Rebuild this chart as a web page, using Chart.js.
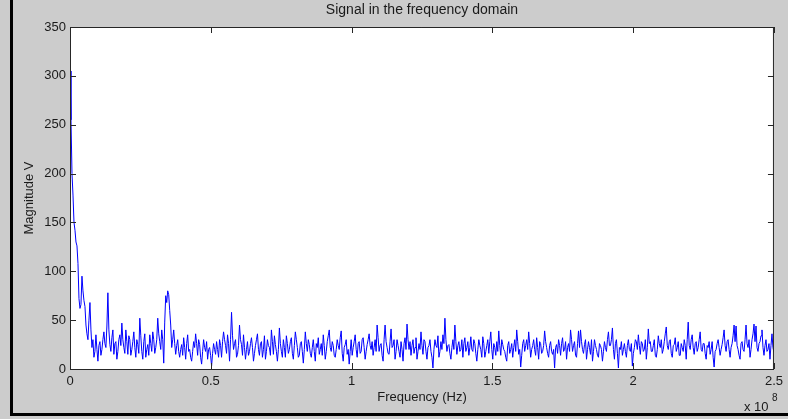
<!DOCTYPE html>
<html>
<head>
<meta charset="utf-8">
<title>Signal in the frequency domain</title>
<script src="https://cdn.jsdelivr.net/npm/chart.js@4/dist/chart.umd.min.js"></script>
<style>
    html, body { margin: 0; padding: 0; background: #cccccc; overflow: hidden; }
    canvas { display: block; }
</style>
</head>
<body>
<canvas id="spectrumChart" width="788" height="419"></canvas>
<script>
// Magnitude (V), evenly spaced from 0 to 2.5e8 Hz
const magnitudeV = [
    305, 255, 200, 178, 150, 142, 130, 126, 108, 72, 62, 66, 95, 80, 70, 64, 45, 36, 30, 50,
    68, 40, 22, 30, 12, 18, 35, 20, 8, 24, 28, 14, 20, 30, 38, 26, 22, 44, 78, 40,
    25, 18, 32, 40, 15, 26, 28, 10, 18, 30, 35, 24, 47, 30, 22, 16, 40, 28, 15, 34,
    30, 14, 20, 28, 38, 22, 12, 30, 25, 16, 52, 34, 18, 10, 28, 36, 12, 20, 25, 14,
    35, 26, 18, 38, 30, 16, 22, 30, 52, 36, 28, 20, 40, 30, 6, 48, 75, 68, 80, 76,
    60, 45, 22, 30, 40, 26, 15, 24, 30, 18, 12, 20, 25, 14, 32, 22, 10, 26, 35, 18,
    20, 12, 8, 18, 28, 22, 36, 26, 14, 30, 25, 12, 5, 18, 30, 22, 18, 28, 10, 20,
    22, 14, 3, 16, 26, 20, 15, 28, 20, 12, 30, 24, 12, 28, 38, 30, 24, 16, 35, 26,
    8, 30, 58, 34, 20, 26, 30, 12, 15, 24, 45, 30, 25, 14, 35, 22, 10, 20, 28, 14,
    18, 26, 32, 22, 8, 16, 24, 30, 36, 20, 14, 26, 28, 12, 20, 34, 10, 18, 30, 24,
    22, 14, 40, 28, 15, 34, 25, 18, 8, 20, 42, 26, 18, 12, 30, 22, 12, 34, 26, 16,
    20, 28, 32, 16, 10, 24, 38, 30, 22, 12, 14, 26, 28, 18, 6, 20, 38, 26, 18, 30,
    25, 16, 12, 22, 30, 18, 8, 26, 22, 32, 15, 20, 26, 14, 35, 24, 10, 18, 28, 34,
    40, 22, 18, 28, 24, 14, 12, 20, 30, 24, 20, 32, 39, 16, 8, 22, 25, 30, 15, 20,
    5, 18, 30, 14, 22, 28, 35, 20, 12, 26, 28, 16, 18, 30, 32, 22, 10, 18, 25, 30,
    36, 24, 20, 28, 14, 22, 30, 18, 45, 32, 18, 24, 26, 14, 8, 30, 45, 28, 22, 16,
    15, 28, 41, 22, 24, 30, 10, 18, 30, 24, 18, 12, 28, 20, 8, 26, 32, 20, 46, 30,
    20, 28, 14, 24, 30, 16, 22, 32, 10, 18, 26, 20, 38, 24, 15, 30, 28, 18, 10, 22,
    24, 30, 18, 12, 1, 20, 30, 24, 22, 34, 12, 18, 28, 20, 35, 26, 52, 30, 18, 24,
    25, 16, 10, 22, 30, 20, 45, 28, 15, 24, 28, 18, 20, 30, 12, 26, 32, 18, 22, 28,
    14, 22, 33, 20, 18, 30, 26, 16, 8, 20, 30, 24, 20, 12, 33, 26, 12, 18, 24, 30,
    16, 28, 38, 20, 10, 26, 22, 14, 28, 18, 39, 24, 14, 30, 25, 20, 18, 12, 8, 24,
    28, 16, 20, 26, 12, 22, 30, 18, 40, 28, 15, 20, 2, 14, 26, 30, 18, 24, 30, 20,
    38, 26, 12, 20, 24, 30, 20, 14, 32, 22, 10, 28, 26, 16, 18, 24, 39, 28, 22, 16,
    12, 24, 28, 18, 15, 20, 1, 22, 25, 16, 30, 24, 14, 26, 32, 18, 20, 28, 10, 22,
    26, 18, 40, 30, 18, 24, 28, 14, 12, 26, 39, 22, 40, 28, 20, 16, 25, 30, 10, 20,
    28, 22, 15, 30, 8, 18, 30, 24, 20, 14, 12, 26, 24, 20, 8, 18, 28, 22, 18, 30,
    38, 24, 24, 30, 42, 20, 10, 26, 30, 16, 1, 22, 20, 28, 14, 20, 26, 18, 12, 24,
    30, 20, 18, 26, 3, 16, 22, 30, 28, 20, 35, 24, 15, 28, 26, 18, 20, 30, 10, 22,
    41, 26, 28, 18, 18, 24, 30, 14, 12, 20, 34, 26, 22, 30, 16, 20, 28, 36, 43, 24,
    20, 28, 30, 16, 12, 24, 25, 32, 18, 22, 28, 14, 14, 26, 22, 18, 30, 24, 10, 30,
    48, 24, 20, 30, 35, 22, 15, 26, 28, 18, 22, 30, 38, 20, 18, 26, 26, 16, 10, 24,
    22, 28, 15, 20, 28, 12, 2, 18, 20, 26, 30, 22, 14, 20, 25, 32, 40, 24, 18, 28,
    30, 20, 12, 22, 26, 34, 45, 28, 44, 24, 20, 14, 10, 26, 28, 20, 18, 30, 45, 26,
    22, 30, 12, 20, 30, 36, 46, 28, 44, 22, 18, 26, 28, 34, 40, 22, 14, 24, 30, 18,
    20, 26, 10, 24, 36, 22, 17
];
const freqSpanHz = 2.5e8;
const xTickLabels = ["0", "0.5", "1", "1.5", "2", "2.5"];
const yTickLabels = ["0", "50", "100", "150", "200", "250", "300", "350"];

const textColor = "#1a1a1a";
const fontFamily = "Arial, 'Liberation Sans', sans-serif";

Chart.defaults.font.family = fontFamily;
Chart.defaults.font.size = 13;
Chart.defaults.color = textColor;

// matlab-ish frame: grey figure, white axes, box with inward ticks
const matlabFrame = {
    id: "matlabFrame",
    beforeDraw(chart) {
        const ctx = chart.ctx;
        const a = chart.chartArea;
        ctx.save();
        ctx.fillStyle = "#cccccc";
        ctx.fillRect(0, 0, chart.width, chart.height);
        ctx.fillStyle = "#000000";
        ctx.fillRect(10, 0, 3, 416);
        ctx.fillRect(10, 413, chart.width - 10, 3);
        ctx.fillStyle = "#ffffff";
        ctx.fillRect(a.left, a.top, a.right - a.left, a.bottom - a.top);
        ctx.restore();
    },
    afterDatasetsDraw(chart) {
        const ctx = chart.ctx;
        const a = chart.chartArea;
        const xs = chart.scales.x;
        const ys = chart.scales.y;
        ctx.save();
        ctx.strokeStyle = "#262626";
        ctx.lineWidth = 1;
        ctx.beginPath();
        ctx.rect(a.left + 0.5, a.top + 0.5, a.right - a.left - 1, a.bottom - a.top);
        xs.ticks.forEach(t => {
            const px = Math.round(xs.getPixelForValue(t.value)) + 0.5;
            ctx.moveTo(px, a.bottom); ctx.lineTo(px, a.bottom - 6);
            ctx.moveTo(px, a.top); ctx.lineTo(px, a.top + 6);
        });
        ys.ticks.forEach(t => {
            const py = Math.round(ys.getPixelForValue(t.value)) + 0.5;
            ctx.moveTo(a.left, py); ctx.lineTo(a.left + 6, py);
            ctx.moveTo(a.right, py); ctx.lineTo(a.right - 6, py);
        });
        ctx.stroke();
        ctx.restore();
    },
    afterDraw(chart) {
        const ctx = chart.ctx;
        const a = chart.chartArea;
        const midX = (a.left + a.right) / 2;
        ctx.save();
        ctx.fillStyle = textColor;
        ctx.textAlign = "center";
        ctx.textBaseline = "middle";
        ctx.font = "14px " + fontFamily;
        ctx.fillText("Signal in the frequency domain", midX, 10);
        ctx.font = "13px " + fontFamily;
        ctx.fillText("Frequency (Hz)", midX, 397);
        ctx.save();
        ctx.translate(29, (a.top + a.bottom) / 2);
        ctx.rotate(-Math.PI / 2);
        ctx.fillText("Magnitude V", 0, 0);
        ctx.restore();
        // exponent label
        ctx.textAlign = "left";
        ctx.textBaseline = "alphabetic";
        ctx.fillText("x 10", 744, 411);
        ctx.font = "10px " + fontFamily;
        ctx.fillText("8", 772, 401);
        ctx.restore();
    }
};

const points = magnitudeV.map((v, i) => ({ x: i * freqSpanHz / (magnitudeV.length - 1), y: v }));

new Chart(document.getElementById("spectrumChart"), {
    type: "line",
    data: {
        datasets: [{
            data: points,
            borderColor: "#0000ff",
            borderWidth: 1,
            pointRadius: 0,
            tension: 0,
            fill: false
        }]
    },
    options: {
        responsive: false,
        animation: false,
        layout: { padding: { top: 27, right: 12, left: 0, bottom: 0 } },
        plugins: {
            legend: { display: false },
            tooltip: { enabled: false },
            title: { display: false }
        },
        scales: {
            x: {
                type: "linear",
                min: 0,
                max: freqSpanHz,
                grid: { display: false, drawTicks: false },
                border: { display: false },
                ticks: {
                    stepSize: 0.5e8,
                    padding: 5,
                    maxRotation: 0,
                    color: textColor,
                    callback: (value, index) => xTickLabels[index]
                },
                afterFit: scale => { scale.height = 50; }
            },
            y: {
                min: 0,
                max: 350,
                grid: { display: false, drawTicks: false },
                border: { display: false },
                ticks: {
                    stepSize: 50,
                    padding: 4,
                    color: textColor,
                    callback: (value, index) => yTickLabels[index]
                },
                afterFit: scale => { scale.width = 70; }
            }
        }
    },
    plugins: [matlabFrame]
});
</script>
</body>
</html>
